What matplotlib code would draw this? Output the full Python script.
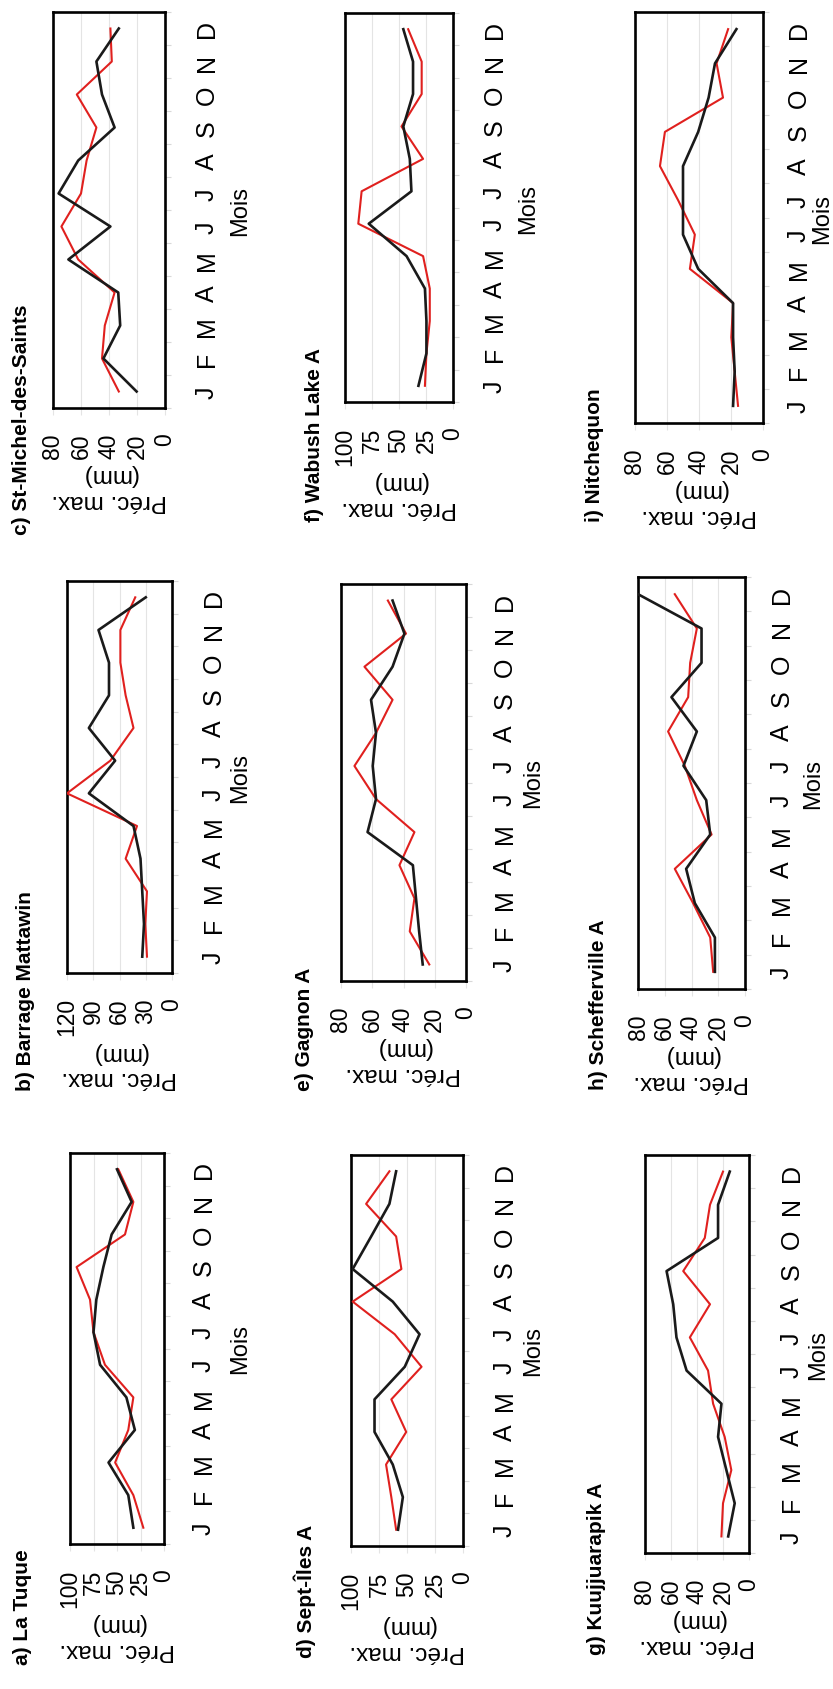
import numpy as np
import matplotlib.pyplot as plt

plt.rcParams['font.family'] = ['Liberation Sans', 'DejaVu Sans']

W, H = 833, 1690
RED = "#e0201e"
BLACK = "#1a1a1a"

months = ["J", "F", "M", "A", "M", "J", "J", "A", "S", "O", "N", "D"]

titles = ["a) La Tuque", "b) Barrage Mattawin", "c) St-Michel-des-Saints",
          "d) Sept-Îles A", "e) Gagnon A", "f) Wabush Lake A",
          "g) Kuujjuarapik A", "h) Schefferville A", "i) Nitchequon"]

vmax = [100, 120, 80, 100, 80, 100, 80, 80, 80]
vstep = [25, 30, 20, 25, 20, 25, 20, 20, 20]

# max precipitation (mm) per month, black and red series
black_a = [32.6, 38, 59, 31, 40, 68, 75, 72, 64.5, 55.7, 34.4, 50]
red_a = [22, 32.6, 52, 38, 32.6, 62.8, 75, 78.7, 93, 41.5, 32.6, 48.6]
black_b = [34, 32, 34, 36, 44, 95, 65, 95, 72, 72, 84, 30]
red_b = [28.6, 30.5, 28.6, 53, 40, 120, 70.5, 44, 53, 59, 59, 42]
black_c = [20.3, 44, 32, 33.4, 69, 39, 76, 62, 36, 45, 49, 33]
red_c = [33, 45, 43, 36, 62, 74, 60, 56, 49, 63, 38, 39]
black_d = [58, 53.7, 62.7, 79, 79, 52, 38.8, 62.7, 98.5, 82, 65.7, 59.7]
red_d = [59.7, 64, 68.7, 50.7, 64, 37, 61, 98.5, 55, 59.7, 86.5, 65.7]
black_e = [27.7, 30, 32, 34, 63, 57.6, 59.7, 57.6, 60.8, 47, 39.4, 47]
red_e = [23.5, 36, 33, 42.6, 33, 57.6, 71.4, 57.6, 47, 65, 38.4, 50]
black_f = [32, 24.6, 24.6, 26, 43, 78, 38.5, 40, 46, 37, 37, 46]
red_f = [26, 24.6, 21.5, 21.5, 27.7, 87.7, 84.6, 27.7, 47.7, 29, 29, 41.5]
black_g = [16, 11, 17.4, 23.8, 21.2, 48, 55.8, 58.3, 63.4, 23.8, 23.8, 14.8]
red_g = [21.2, 20, 13.6, 18.7, 27.6, 31.5, 45.5, 30, 50.6, 34, 30, 20]
black_h = [22.5, 22.5, 37.5, 44, 26, 29, 46, 36, 55, 32.5, 32.5, 80]
red_h = [23.8, 26, 38.8, 52.5, 25, 36, 45, 57.5, 42.5, 41, 36, 52.5]
black_i = [18.7, 17.7, 18.7, 18.7, 40.5, 50, 50, 50, 40.5, 34, 30, 16.6]
red_i = [15.6, 17.7, 19.8, 18.7, 45.7, 42.6, 53, 64.4, 61.3, 25, 29, 21.8]

blacks = [black_a, black_b, black_c, black_d, black_e, black_f, black_g, black_h, black_i]
reds = [red_a, red_b, red_c, red_d, red_e, red_f, red_g, red_h, red_i]

# page is turned a quarter turn: box rectangles in pixels (x0, y0, x1, y1)
boxes = [(70, 1154, 164, 1545), (67, 582, 172, 974), (53, 13, 165, 409),
         (351, 1156, 463, 1547), (341, 585, 466, 982), (345, 14, 453, 403),
         (645, 1156, 749, 1554), (638, 578, 745, 990), (635, 13, 763, 424)]
title_pos = [(23, 1665), (26, 1091), (22, 535),
             (305, 1658), (305, 1091), (314, 522),
             (597, 1655), (598, 1090), (595, 522)]
# gaps (px) box -> month letters, and month letters -> "Mois"
month_gap = [26, 28, 28, 28, 25, 28, 29, 23, 22]
mois_gap = [40, 30, 37, 32, 32, 37, 30, 35, 25]

fig = plt.figure(figsize=(W / 100, H / 100), dpi=100)
m = np.arange(12)

for k in range(9):
    x0, y0, x1, y1 = boxes[k]
    ax = fig.add_axes([x0 / W, 1 - y1 / H, (x1 - x0) / W, (y1 - y0) / H])
    ax.plot(reds[k], m, color=RED, lw=1.5, zorder=3)
    ax.plot(blacks[k], m, color=BLACK, lw=1.9, zorder=4)
    ax.set_xlim(vmax[k], 0)
    ax.set_ylim(-0.5, 11.5)

    ticks = np.arange(0, vmax[k] + 1, vstep[k])
    ax.set_xticks(ticks)
    ax.set_xticklabels([str(t) for t in ticks], rotation=90, fontsize=16.5)
    for t in ticks[1:-1]:
        ax.axvline(t, color='#e4e4e4', lw=0.8, zorder=1)
    ax.tick_params(axis='x', length=5, width=0.8, color='#e4e4e4', pad=12.5)

    ax.yaxis.tick_right()
    ax.set_yticks(m)
    ax.set_yticklabels(months, rotation=90, va='center', fontsize=18)
    ax.tick_params(axis='y', which='major', length=0,
                   pad=15 + (month_gap[k] - 19) / 1.389)
    ax.set_yticks(np.arange(-0.5, 12, 1), minor=True)
    ax.tick_params(axis='y', which='minor', right=True, left=False,
                   length=4, width=0.8, color='#d8d8d8')
    ax.yaxis.set_label_position('right')
    ax.set_ylabel('Mois', fontsize=17, rotation=90,
                  labelpad=max(0.5, 4 + (mois_gap[k] - 32) / 1.389))
    ax.set_xlabel('Préc. max.\n(mm)', fontsize=17.5, rotation=180, labelpad=4)
    for s in ax.spines.values():
        s.set_linewidth(1.9)

    tx, ty = title_pos[k]
    fig.text(tx / W, 1 - ty / H, titles[k], rotation=90, ha='center', va='bottom',
             fontsize=15, fontweight='bold')

fig.savefig('out.png', dpi=100)
